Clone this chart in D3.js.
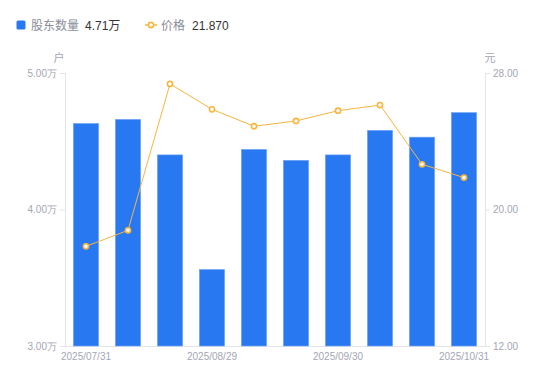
<!DOCTYPE html>
<html><head><meta charset="utf-8">
<script src="https://cdn.jsdelivr.net/npm/d3@7"></script>
<style>body{margin:0;background:#fff;}svg{display:block;font-family:"Liberation Sans",Arial,"Noto Sans CJK SC",sans-serif;}</style>
</head><body><svg id="c" width="550" height="381"></svg>
<script>
const dates = ["2025/07/31","2025/08/10","2025/08/20","2025/08/29","2025/09/10","2025/09/19","2025/09/30","2025/10/10","2025/10/20","2025/10/31"];
const holders = [4.63,4.66,4.40,3.56,4.44,4.36,4.40,4.58,4.53,4.71]; // 万户
const prices = [17.84,18.78,27.36,25.87,24.88,25.19,25.79,26.12,22.65,21.87];
const leftTicks = [3,4,5];
const rightTicks = [12,20,28];
const shownLabels = ["2025/07/31","2025/08/29","2025/09/30","2025/10/31"];

const svg = d3.select("#c");
const m = {l:65, r:485, t:73, b:346};
const x = d3.scaleBand().domain(dates).range([m.l, m.r]).paddingInner(0.4).paddingOuter(0.2);
const yL = d3.scaleLinear().domain([3,5]).range([m.b, m.t]);
const yR = d3.scaleLinear().domain([12,28]).range([m.b, m.t]);
const axisColor = "#e3e5ea", textColor = "#a3a6b4";
const blue = "#2878f2", orange = "#f8b540";

// axes
const gL = svg.append("g").attr("transform",`translate(${m.l},0)`)
  .call(d3.axisLeft(yL).tickValues(leftTicks).tickSize(5).tickPadding(3).tickFormat(d=>d.toFixed(2)+"万"));
const gR = svg.append("g").attr("transform",`translate(${m.r},0)`)
  .call(d3.axisRight(yR).tickValues(rightTicks).tickSize(5).tickPadding(3).tickFormat(d=>d.toFixed(2)));
const gB = svg.append("g").attr("transform",`translate(0,${m.b})`)
  .call(d3.axisBottom(x).tickSize(0).tickPadding(7).tickFormat(d=>shownLabels.includes(d)?d:""));
[gL,gR,gB].forEach(g=>{
  g.selectAll("path.domain").attr("stroke",axisColor);
  g.selectAll("line").attr("stroke",axisColor);
  g.selectAll("text").attr("fill",textColor).attr("font-size",10);
});
gB.select("path.domain").attr("d",`M${m.l},0.5H${m.r}`);

// units
svg.append("text").attr("x",59).attr("y",62).attr("text-anchor","middle").attr("fill",textColor)
  .attr("font-size",11).attr("font-family","Noto Sans CJK SC").text("户");
svg.append("text").attr("x",490).attr("y",62).attr("text-anchor","middle").attr("fill",textColor)
  .attr("font-size",11).attr("font-family","Noto Sans CJK SC").text("元");

// bars
svg.append("g").selectAll("rect").data(dates).join("rect")
  .attr("x",d=>x(d)).attr("width",x.bandwidth())
  .attr("y",(d,i)=>yL(holders[i])).attr("height",(d,i)=>m.b - yL(holders[i]))
  .attr("fill",blue).attr("stroke","#6fa3f5").attr("stroke-width",0.6);

// line
const line = d3.line().x((d,i)=>x(dates[i])+x.bandwidth()/2).y(d=>yR(d));
svg.append("path").datum(prices).attr("d",line).attr("fill","none").attr("stroke",orange).attr("stroke-width",1);
svg.append("g").selectAll("circle").data(prices).join("circle")
  .attr("cx",(d,i)=>x(dates[i])+x.bandwidth()/2).attr("cy",d=>yR(d)).attr("r",2.6)
  .attr("fill","#fff").attr("stroke",orange).attr("stroke-width",1.6);

// legend
const lg = svg.append("g").attr("font-size",12);
lg.append("rect").attr("x",16.5).attr("y",20.5).attr("width",9).attr("height",9).attr("rx",1.5).attr("fill",blue);
lg.append("text").attr("x",31).attr("y",29.5).attr("fill","#8a8d99").attr("font-family","Noto Sans CJK SC").text("股东数量");
lg.append("text").attr("x",85).attr("y",29.5).attr("fill","#333").text(d3.format(".2f")(holders[holders.length-1])+"万");
lg.append("line").attr("x1",145).attr("x2",157).attr("y1",25).attr("y2",25).attr("stroke",orange).attr("stroke-width",1.5);
lg.append("circle").attr("cx",151).attr("cy",25).attr("r",2.6).attr("fill","#fff").attr("stroke",orange).attr("stroke-width",1.6);
lg.append("text").attr("x",161).attr("y",29.5).attr("fill","#8a8d99").attr("font-family","Noto Sans CJK SC").text("价格");
lg.append("text").attr("x",192).attr("y",29.5).attr("fill","#333").text(d3.format(".3f")(prices[prices.length-1]));
</script></body></html>
